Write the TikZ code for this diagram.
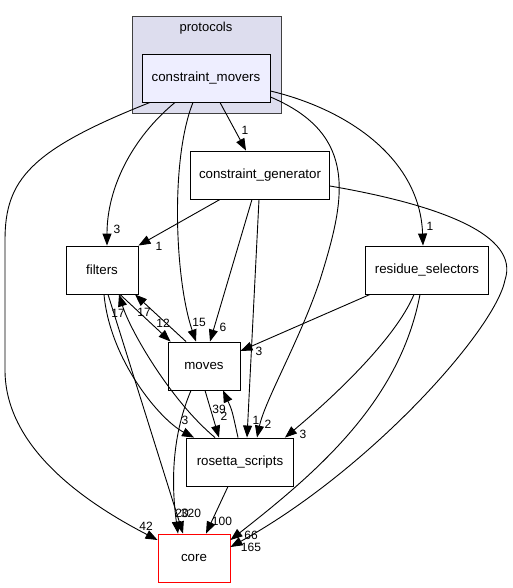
\documentclass[tikz,border=0pt]{standalone}
\usepackage{fontspec}
\setmainfont{Liberation Sans}
\usetikzlibrary{arrows.meta}
\definecolor{clusterfill}{HTML}{DDDDEE}
\definecolor{moversfill}{HTML}{EEEEFF}

\begin{document}
\begin{tikzpicture}[x=1pt,y=-1pt,
		box/.style={draw,line width=0.9pt,minimum height=48pt,inner sep=0pt,font=\fontsize{13.3}{16}\selectfont},
		edge/.style={line width=0.9pt,-{Triangle[length=12pt,width=9pt]}},
		lbl/.style={inner sep=0pt,font=\fontsize{12}{14}\selectfont}]
		\useasboundingbox (0,0) rectangle (513,588);
		\node[draw=black!75,fill=clusterfill,line width=1.2pt,minimum width=149pt,minimum height=97pt,inner sep=0pt,anchor=north west] (protocols) at (132,16) {};
		\node[lbl,font=\fontsize{13}{15}\selectfont] (ptitle) at (206,28) {protocols};
		\node[box,fill=moversfill,minimum width=128pt] (cm) at (206,78) {constraint\_movers};
		\node[box,minimum width=139pt] (cg) at (260,175) {constraint\_generator};
		\node[box,minimum width=72pt] (filters) at (102,270) {filters};
		\node[box,minimum width=123pt] (res) at (427,270) {residue\_selectors};
		\node[box,minimum width=72pt] (moves) at (204,366) {moves};
		\node[box,minimum width=107pt] (rs) at (240,462) {rosetta\_scripts};
		\node[box,draw=red,minimum width=72pt] (core) at (194,558) {core};
		\draw[edge] ([xshift=-56pt]cm.south) .. controls (30,150) and (5,180) .. (5,240) -- (5,370) .. controls (5,450) and (90,505) .. ([yshift=18pt]core.west);
		\draw[edge] ([xshift=-31pt]cm.south) .. controls (132,138) and (107,188) .. ([xshift=5pt]filters.north);
		\draw[edge] ([xshift=-13pt]cm.south) .. controls (170,160) and (175,280) .. ([xshift=-8pt]moves.north);
		\draw[edge] ([xshift=14pt]cm.south) -- ([xshift=-14pt]cg.north);
		\draw[edge] ([yshift=-19pt]cm.east) .. controls (360,135) and (345,200) .. (320,280) .. controls (300,340) and (265,400) .. ([xshift=17pt]rs.north);
		\draw[edge] ([yshift=-13pt]cm.east) .. controls (350,110) and (420,160) .. ([xshift=-4pt]res.north);
		\draw[edge] ([xshift=-40pt]cg.south) -- (filters.north east);
		\draw[edge] ([xshift=-8pt]cg.south) -- ([xshift=6pt]moves.north);
		\draw[edge] ([xshift=-1pt]cg.south) -- ([xshift=7pt]rs.north);
		\draw[edge] ([yshift=-11pt]cg.east) .. controls (440,205) and (520,235) .. (505,280) .. controls (495,330) and (370,470) .. ([yshift=11pt]core.east);
		\draw[edge] ([xshift=-57pt]res.south) -- ([yshift=15pt]moves.east);
		\draw[edge] ([xshift=-13pt]res.south) .. controls (395,340) and (330,400) .. ([xshift=-9pt]rs.north east);
		\draw[edge] ([xshift=-7pt]res.south) .. controls (400,400) and (320,470) .. ([yshift=18pt]core.east);
		\draw[edge] ([xshift=18pt]filters.south) -- ([xshift=3pt]moves.north west);
		\draw[edge] ([xshift=-18pt]moves.north) -- ([xshift=33pt]filters.south);
		\draw[edge] ([xshift=-25pt]rs.north) .. controls (170,400) and (130,330) .. ([xshift=17pt]filters.south);
		\draw[edge] ([xshift=2pt]filters.south) .. controls (110,360) and (160,420) .. ([xshift=8pt]rs.north west);
		\draw[edge] ([xshift=6pt]filters.south) -- ([xshift=-11pt]core.north);
		\draw[edge] ([xshift=-13pt]moves.south) .. controls (170,440) and (172,490) .. ([xshift=-16pt]core.north);
		\draw[edge] ([xshift=1pt]moves.south) -- ([xshift=-21pt]rs.north);
		\draw[edge] ([xshift=-2pt]rs.north) .. controls (232,410) .. ([xshift=19pt]moves.south);
		\draw[edge] ([xshift=-12pt]rs.south) -- ([xshift=12pt]core.north);
		\node[lbl] (l42) at (146,526) {42};
		\node[lbl] (l3a) at (117,229) {3};
		\node[lbl] (l15) at (199,322) {15};
		\node[lbl] (l1a) at (245,130) {1};
		\node[lbl] (l2a) at (268,424) {2};
		\node[lbl] (l1b) at (430,226) {1};
		\node[lbl] (l1c) at (159,246) {1};
		\node[lbl] (l6) at (223,327) {6};
		\node[lbl] (l1d) at (256,420) {1};
		\node[lbl] (l165) at (251,547) {165};
		\node[lbl] (l3b) at (259,351) {3};
		\node[lbl] (l3c) at (303,434) {3};
		\node[lbl] (l66) at (251,535) {66};
		\node[lbl] (l12) at (163,323) {12};
		\node[lbl] (l17a) at (144,312) {17};
		\node[lbl] (l17b) at (118,313) {17};
		\node[lbl] (l3d) at (185,420) {3};
		\node[lbl] (l20) at (182,513) {20};
		\node[lbl] (l320) at (191,513) {320};
		\node[lbl] (l39) at (219,409) {39};
		\node[lbl] (l2b) at (224,416) {2};
		\node[lbl] (l100) at (222,521) {100};
	\end{tikzpicture}
\end{document}
